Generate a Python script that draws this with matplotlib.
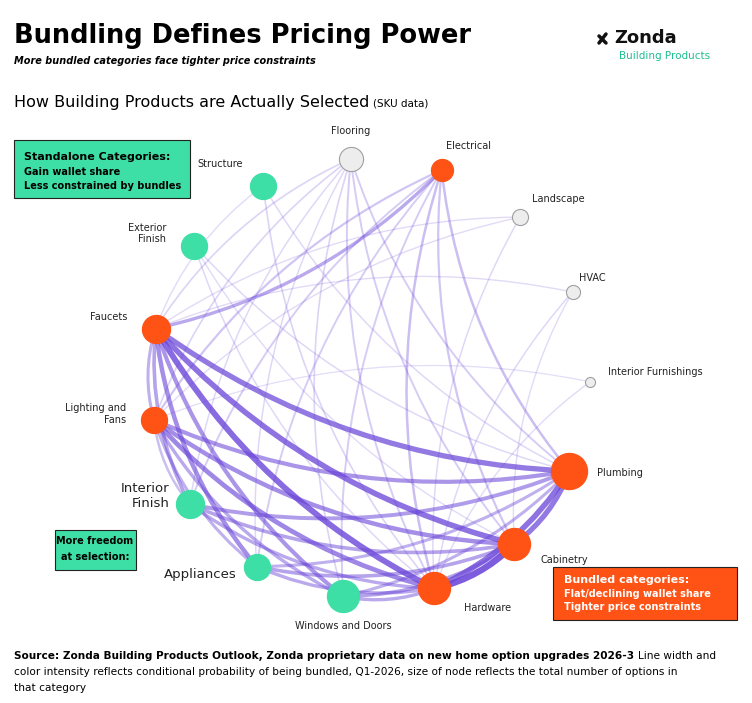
import numpy as np
import matplotlib.pyplot as plt
from matplotlib.patches import FancyArrowPatch, Rectangle

# node data (clockwise from top)
nodes = ['Flooring', 'Electrical', 'Landscape', 'HVAC', 'Interior Furnishings', 'Plumbing',
         'Cabinetry', 'Hardware', 'Windows and Doors', 'Appliances', 'Interior\nFinish',
         'Lighting and\nFans', 'Faucets', 'Exterior\nFinish', 'Structure']
sizes = [12, 11, 8, 7, 5, 18, 16, 16, 16, 13, 14, 13, 14, 13, 13]
groups = ['grey', 'orange', 'grey', 'grey', 'grey', 'orange', 'orange', 'orange',
          'teal', 'teal', 'teal', 'orange', 'orange', 'teal', 'teal']

# edges: (a, b, bundling strength 0..1)
edges = [
    ('Faucets', 'Hardware', 0.9), ('Faucets', 'Cabinetry', 0.85), ('Faucets', 'Plumbing', 0.8),
    ('Faucets', 'Windows and Doors', 0.6), ('Faucets', 'Appliances', 0.65), ('Faucets', 'Interior\nFinish', 0.5),
    ('Faucets', 'Lighting and\nFans', 0.4), ('Faucets', 'Electrical', 0.45),
    ('Lighting and\nFans', 'Hardware', 0.7), ('Lighting and\nFans', 'Cabinetry', 0.65),
    ('Lighting and\nFans', 'Plumbing', 0.6), ('Lighting and\nFans', 'Windows and Doors', 0.45),
    ('Lighting and\nFans', 'Appliances', 0.4), ('Lighting and\nFans', 'Interior\nFinish', 0.3),
    ('Hardware', 'Cabinetry', 1.0), ('Hardware', 'Plumbing', 0.85), ('Cabinetry', 'Plumbing', 0.8),
    ('Interior\nFinish', 'Plumbing', 0.55), ('Interior\nFinish', 'Cabinetry', 0.5), ('Interior\nFinish', 'Hardware', 0.45),
    ('Appliances', 'Cabinetry', 0.5), ('Appliances', 'Hardware', 0.45), ('Appliances', 'Plumbing', 0.4),
    ('Windows and Doors', 'Cabinetry', 0.5), ('Windows and Doors', 'Hardware', 0.45), ('Windows and Doors', 'Plumbing', 0.4),
    ('Electrical', 'Hardware', 0.3), ('Electrical', 'Cabinetry', 0.25), ('Electrical', 'Plumbing', 0.3),
    ('Electrical', 'Windows and Doors', 0.2), ('Electrical', 'Lighting and\nFans', 0.25),
    ('Flooring', 'Faucets', 0.15), ('Flooring', 'Hardware', 0.2), ('Flooring', 'Cabinetry', 0.2),
    ('Flooring', 'Plumbing', 0.2), ('Flooring', 'Lighting and\nFans', 0.15), ('Flooring', 'Windows and Doors', 0.15),
    ('Flooring', 'Appliances', 0.12), ('Flooring', 'Interior\nFinish', 0.12),
    ('Structure', 'Hardware', 0.15), ('Structure', 'Plumbing', 0.12), ('Structure', 'Faucets', 0.1),
    ('Exterior\nFinish', 'Hardware', 0.12), ('Exterior\nFinish', 'Plumbing', 0.12), ('Exterior\nFinish', 'Cabinetry', 0.1),
    ('Landscape', 'Faucets', 0.1), ('Landscape', 'Hardware', 0.12), ('Landscape', 'Lighting and\nFans', 0.1),
    ('HVAC', 'Hardware', 0.12), ('HVAC', 'Faucets', 0.1), ('HVAC', 'Cabinetry', 0.1),
    ('Interior Furnishings', 'Hardware', 0.1), ('Interior Furnishings', 'Lighting and\nFans', 0.08),
    ('Electrical', 'Interior\nFinish', 0.2), ('Electrical', 'Appliances', 0.2),
]

colors = {'grey': '#EDEDED', 'orange': '#FF5215', 'teal': '#3DDFA6'}
edgecolors = {'grey': '#A0A0A0', 'orange': '#FF5215', 'teal': '#3DDFA6'}

fig = plt.figure(figsize=(7.52, 7.03), dpi=100)
ax = fig.add_axes([0, 0, 1, 1])
ax.set_xlim(0, 752)
ax.set_ylim(703, 0)
ax.axis('off')

cx, cy, r = 370, 378, 220
ang0 = -95.0
pos = {}
for i, n in enumerate(nodes):
    a = np.radians(ang0 + i * 360 / len(nodes))
    pos[n] = (cx + r * np.cos(a), cy + r * np.sin(a))

for a, b, w in edges:
    p = FancyArrowPatch(pos[a], pos[b], arrowstyle='-', connectionstyle='arc3,rad=0.15',
                        color='#6A45D8', alpha=0.12 + 0.75 * w, lw=0.6 + 4.0 * w, zorder=1)
    ax.add_patch(p)

for n, s, g in zip(nodes, sizes, groups):
    x, y = pos[n]
    ax.scatter(x, y, s=(s * 1.45) ** 2, c=colors[g], edgecolors=edgecolors[g], linewidths=0.8, zorder=3)

label_off = {
    'Flooring': (0, -28, 'center'), 'Electrical': (4, -24, 'left'), 'Landscape': (12, -18, 'left'),
    'HVAC': (6, -14, 'left'), 'Interior Furnishings': (18, -10, 'left'), 'Plumbing': (28, 2, 'left'),
    'Cabinetry': (26, 16, 'left'), 'Hardware': (30, 20, 'left'), 'Windows and Doors': (0, 30, 'center'),
    'Appliances': (-20, 8, 'right'), 'Interior\nFinish': (-20, -8, 'right'), 'Lighting and\nFans': (-28, -6, 'right'),
    'Faucets': (-28, -12, 'right'), 'Exterior\nFinish': (-28, -12, 'right'), 'Structure': (-20, -22, 'right'),
}
for n in nodes:
    dx, dy, ha = label_off[n]
    fs = 9.5 if n in ('Interior\nFinish', 'Appliances') else 7
    ax.text(pos[n][0] + dx, pos[n][1] + dy, n, fontsize=fs, ha=ha, va='center', color='#222222', zorder=4)

# titles
ax.text(14, 36, 'Bundling Defines Pricing Power', fontsize=18.5, fontweight='bold', va='center')
ax.text(14, 61, 'More bundled categories face tighter price constraints', fontsize=7,
        fontweight='bold', style='italic', va='center')
t = ax.text(14, 102, 'How Building Products are Actually Selected', fontsize=11.5, va='center')
fig.canvas.draw()
bb = t.get_window_extent().transformed(ax.transData.inverted())
ax.text(bb.x1 + 4, 104, '(SKU data)', fontsize=7.5, va='center')

# logo
ax.plot([599, 606], [43, 34], color='#111111', lw=2.5, solid_capstyle='round')
ax.plot([599, 606], [36, 43], color='#111111', lw=2.5, solid_capstyle='round')
ax.text(614, 38, 'Zonda', fontsize=13, fontweight='bold', va='center', color='#111111')
ax.text(619, 56, 'Building Products', fontsize=7.5, va='center', color='#1FBF90')

# boxes
ax.add_patch(Rectangle((14, 140), 176, 58, facecolor='#3DDFA6', edgecolor='#222222', lw=0.8, zorder=5))
ax.text(24, 157, 'Standalone Categories:', fontsize=8, fontweight='bold', va='center', zorder=6)
ax.text(24, 172, 'Gain wallet share', fontsize=7, fontweight='bold', va='center', zorder=6)
ax.text(24, 186, 'Less constrained by bundles', fontsize=7, fontweight='bold', va='center', zorder=6)

ax.add_patch(Rectangle((55, 530), 81, 40, facecolor='#3DDFA6', edgecolor='#222222', lw=0.8, zorder=5))
ax.text(95, 541, 'More freedom', fontsize=7, fontweight='bold', ha='center', va='center', zorder=6)
ax.text(95, 557, 'at selection:', fontsize=7, fontweight='bold', ha='center', va='center', zorder=6)

ax.add_patch(Rectangle((553, 567), 184, 53, facecolor='#FF5215', edgecolor='#222222', lw=0.8, zorder=5))
ax.text(564, 580, 'Bundled categories:', fontsize=8, fontweight='bold', va='center', color='white', zorder=6)
ax.text(564, 594, 'Flat/declining wallet share', fontsize=7, fontweight='bold', va='center', color='white', zorder=6)
ax.text(564, 607, 'Tighter price constraints', fontsize=7, fontweight='bold', va='center', color='white', zorder=6)

# source
t = ax.text(14, 656, 'Source: Zonda Building Products Outlook, Zonda proprietary data on new home option upgrades 2026-3',
            fontsize=7.6, fontweight='bold', va='center')
fig.canvas.draw()
bb = t.get_window_extent().transformed(ax.transData.inverted())
ax.text(bb.x1 + 4, 656, 'Line width and', fontsize=7.6, va='center')
ax.text(14, 672, 'color intensity reflects conditional probability of being bundled, Q1-2026, size of node reflects the total number of options in',
        fontsize=7.6, va='center')
ax.text(14, 688, 'that category', fontsize=7.6, va='center')

fig.savefig('out.png', dpi=100)
